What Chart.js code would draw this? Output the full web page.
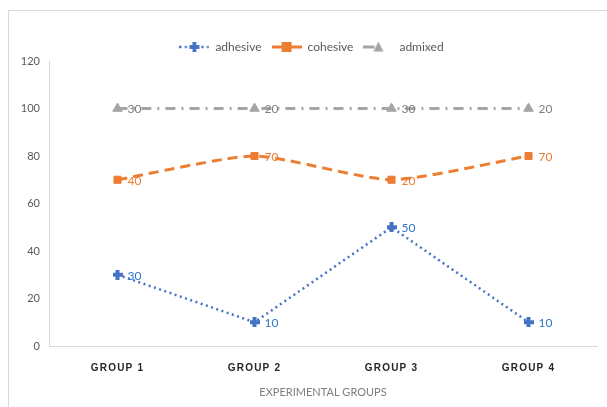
<!DOCTYPE html>
<html>
<head>
<meta charset="utf-8">
<script src="https://cdn.jsdelivr.net/npm/chart.js@4/dist/chart.umd.min.js"></script>
<style>
  html, body { margin: 0; padding: 0; background: #fff; overflow: hidden; width: 607px; height: 407px; }
  #frame { position: absolute; left: 8px; top: 10px; width: 700px; height: 500px; border: 1px solid #d9d9d9; }
  #chart { position: absolute; left: 0; top: 0; }
</style>
</head>
<body>
<div id="frame"></div>
<canvas id="chart" width="607" height="407"></canvas>
<script>
// Categories and per-series values (stacked line chart)
const groups = ['GROUP 1', 'GROUP 2', 'GROUP 3', 'GROUP 4'];
const adhesive = [30, 10, 50, 10];
const cohesive = [40, 70, 20, 70];
const admixed = [30, 20, 30, 20];
const yTicks = [0, 20, 40, 60, 80, 100, 120];

const BLUE = '#4472C4', ORANGE = '#ED7D31', GREY = '#A5A5A5';
const labelColors = ['#2E75C6', ORANGE, '#808080'];

// Thick "plus" marker used for the adhesive series
function plusMarker(color, size) {
  const c = document.createElement('canvas');
  c.width = size; c.height = size;
  const g = c.getContext('2d');
  g.fillStyle = color;
  const t = Math.round(size * 0.42);
  g.fillRect((size - t) / 2, 0, t, size);
  g.fillRect(0, (size - t) / 2, size, t);
  return c;
}

// Legend swatches: a short line in the series style with its marker in the middle
function swatch(kind) {
  const w = 30, h = 12;
  const c = document.createElement('canvas');
  c.width = w; c.height = h;
  const g = c.getContext('2d');
  const cy = h / 2, cx = w / 2;
  g.lineWidth = 2.5;
  if (kind === 0) {
    g.strokeStyle = BLUE; g.fillStyle = BLUE;
    g.setLineDash([2, 3.5]);
    g.beginPath(); g.moveTo(0, cy); g.lineTo(w, cy); g.stroke();
    g.fillRect(cx - 1.9, cy - 5, 3.8, 10);
    g.fillRect(cx - 5, cy - 1.9, 10, 3.8);
  } else if (kind === 1) {
    g.strokeStyle = ORANGE; g.fillStyle = ORANGE;
    g.lineWidth = 3;
    g.beginPath(); g.moveTo(0, cy); g.lineTo(w, cy); g.stroke();
    g.fillRect(cx - 5, cy - 5, 10, 10);
  } else {
    g.strokeStyle = GREY; g.fillStyle = GREY;
    g.lineWidth = 3;
    g.beginPath(); g.moveTo(0, cy); g.lineTo(11, cy); g.stroke();
    g.beginPath(); g.moveTo(cx, cy - 5.5); g.lineTo(cx + 5, cy + 4.5); g.lineTo(cx - 5, cy + 4.5); g.closePath(); g.fill();
  }
  return c;
}
const swatches = [swatch(0), swatch(1), swatch(2)];

// Value labels beside each point
const valueLabels = {
  id: 'valueLabels',
  afterDatasetsDraw(chart) {
    const ctx = chart.ctx;
    chart.data.datasets.forEach((ds, i) => {
      const meta = chart.getDatasetMeta(i);
      ctx.save();
      ctx.font = '12px Lato';
      ctx.fillStyle = labelColors[i];
      ctx.textAlign = 'left';
      ctx.textBaseline = 'middle';
      meta.data.forEach((pt, j) => {
        ctx.fillText(String(ds.data[j]), pt.x + 10, pt.y + 1);
      });
      ctx.restore();
    });
  }
};

// Letter-spaced category labels on the x axis
const spacedTicks = {
  id: 'spacedTicks',
  beforeDraw(chart) {
    const s = chart.scales.x;
    if (!s._spaced) {
      const orig = s.drawLabels;
      s.drawLabels = function (area) {
        const ctx = this.ctx;
        ctx.save();
        ctx.letterSpacing = '1.2px';
        orig.call(this, area);
        ctx.restore();
      };
      s._spaced = true;
    }
  }
};

// Nudge the legend box so it sits centred over the series area
const legendOffset = {
  id: 'legendOffset',
  afterLayout(chart) {
    const lg = chart.legend;
    if (lg) {
      lg.left += 13; lg.right += 13;
      lg.top += 2; lg.bottom += 2;
    }
  }
};

new Chart(document.getElementById('chart'), {
  type: 'line',
  data: {
    labels: groups,
    datasets: [
      {
        label: 'adhesive', data: adhesive, fill: false,
        borderColor: BLUE, backgroundColor: BLUE, borderWidth: 2.5,
        borderDash: [2, 3.5], tension: 0,
        pointStyle: plusMarker(BLUE, 10), pointRadius: 5
      },
      {
        label: 'cohesive', data: cohesive, fill: false,
        borderColor: ORANGE, backgroundColor: ORANGE, borderWidth: 3,
        borderDash: [10, 6], tension: 0.2,
        pointStyle: 'rect', pointRadius: 5, pointBorderWidth: 1
      },
      {
        label: 'admixed', data: admixed, fill: false,
        borderColor: GREY, backgroundColor: GREY, borderWidth: 3,
        borderDash: [10, 6, 2, 6], tension: 0.2,
        pointStyle: 'triangle', pointRadius: 5.5, pointBorderWidth: 1
      }
    ]
  },
  options: {
    responsive: false,
    animation: false,
    layout: { padding: { left: 0, right: 10, top: 29, bottom: 0 } },
    plugins: {
      tooltip: { enabled: false },
      legend: {
        position: 'top',
        labels: {
          usePointStyle: true,
          pointStyleWidth: 30,
          padding: 10,
          color: '#595959',
          font: { family: 'Lato', size: 12 },
          generateLabels: chart => chart.data.datasets.map((ds, i) => ({
            text: ds.label,
            pointStyle: swatches[i],
            fontColor: '#595959',
            datasetIndex: i,
            hidden: false,
            lineWidth: 0,
            strokeStyle: 'transparent',
            fillStyle: 'transparent'
          }))
        }
      }
    },
    scales: {
      x: {
        offset: true,
        grid: { display: false, drawTicks: false, offset: true },
        border: { display: true, color: '#D9D9D9', width: 1 },
        ticks: {
          padding: 16,
          color: '#262626',
          font: { family: 'Liberation Sans', size: 10, weight: 'bold' }
        },
        title: {
          display: true,
          text: 'EXPERIMENTAL GROUPS',
          color: '#7F7F7F',
          font: { family: 'Lato', size: 11 },
          padding: { top: 0, bottom: 8 }
        },
        afterFit(scale) { scale.height = 61; }
      },
      y: {
        stacked: true,
        min: 0, max: 120,
        grid: { display: false, drawTicks: false },
        border: { display: true, color: '#D9D9D9', width: 1 },
        afterBuildTicks(scale) { scale.ticks = yTicks.map(v => ({ value: v })); },
        ticks: {
          padding: 9,
          color: '#595959',
          font: { family: 'Lato', size: 11 }
        },
        afterFit(scale) { scale.width = 49; }
      }
    }
  },
  plugins: [valueLabels, spacedTicks, legendOffset]
});
</script>
</body>
</html>
